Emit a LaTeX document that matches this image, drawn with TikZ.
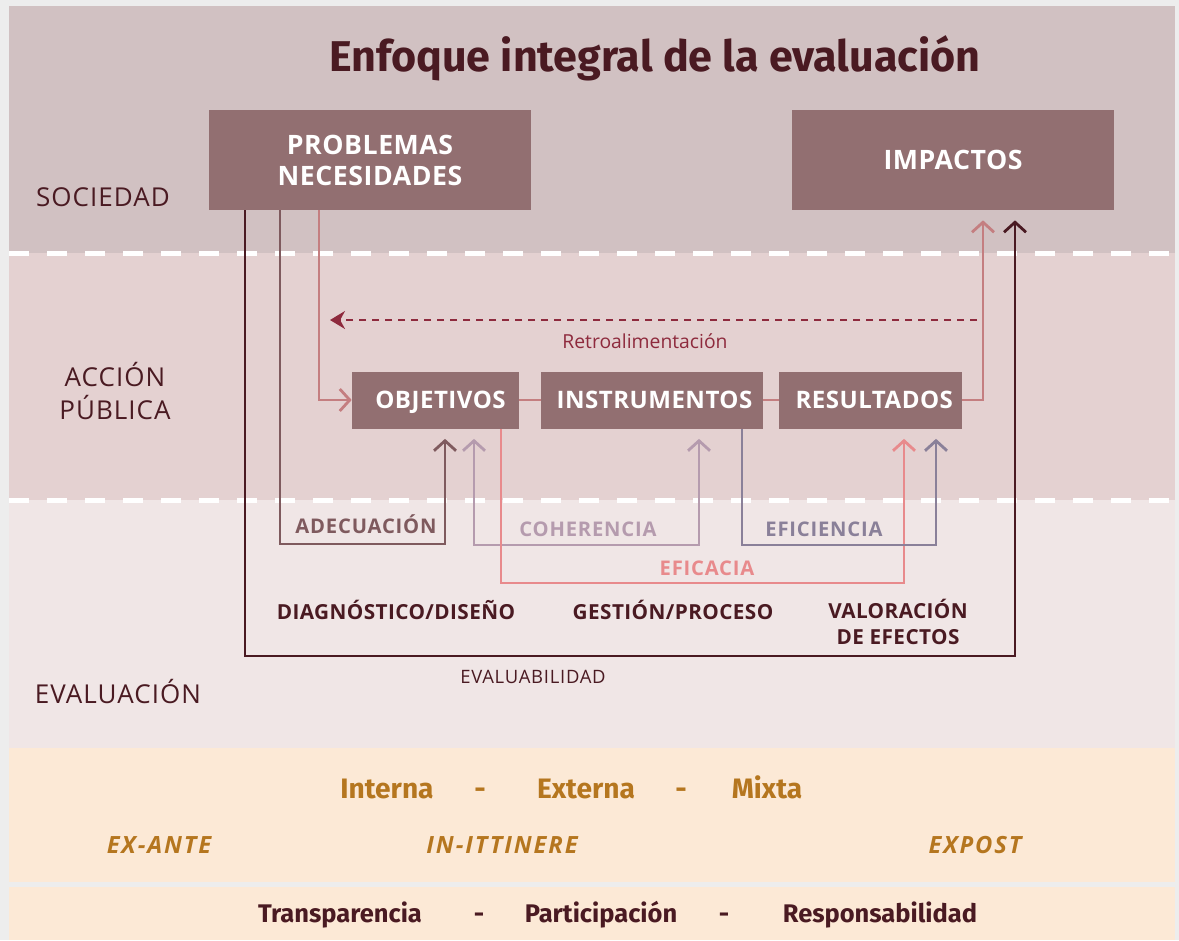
\documentclass[tikz,border=0pt]{standalone}
\usepackage{fontspec}
\setmainfont{Fira Sans}
\newfontfamily\labfont[LetterSpace=4]{Open Sans}
\newfontfamily\boxfont[LetterSpace=2]{Open Sans}
\newfontfamily\momfont[LetterSpace=8]{Open Sans}
\newfontfamily\plainfont{Open Sans}
\usepackage{tikz}
\usetikzlibrary{positioning,calc,arrows.meta}

\definecolor{outerc}{HTML}{EDEDED}
\definecolor{socc}{HTML}{D1C1C2}
\definecolor{accc}{HTML}{E4D1D1}
\definecolor{evac}{HTML}{F0E6E6}
\definecolor{peachc}{HTML}{FCE9D6}
\definecolor{boxc}{HTML}{926F71}
\definecolor{darkc}{HTML}{4A1A22}
\definecolor{adecc}{HTML}{7F5A5E}
\definecolor{pinkc}{HTML}{C47E80}
\definecolor{fbc}{HTML}{8E2A3D}
\definecolor{cohc}{HTML}{B59BAE}
\definecolor{eficc}{HTML}{E88A8C}
\definecolor{efic}{HTML}{8A8099}
\definecolor{goldc}{HTML}{B5761F}

\begin{document}
\begin{tikzpicture}[x=0.02cm,y=-0.02cm,
    box/.style={rectangle,fill=boxc,text=white,font=\boxfont\bfseries\fontsize{15.2}{17.6}\selectfont,align=center,inner sep=0},
    smallbox/.style={box,minimum height=1.14cm,font=\boxfont\bfseries\fontsize{13.7}{16}\selectfont,text height=1.75ex,text depth=0pt},
    link/.style={line width=1.6pt,-{Straight Barb[length=2mm,width=4.4mm]}},
    zone/.style={font=\labfont\fontsize{14.8}{18}\selectfont,text=darkc,align=center},
    crit/.style={font=\labfont\bfseries\fontsize{11.5}{14}\selectfont},
    stage/.style={font=\boxfont\bfseries\fontsize{11.8}{15}\selectfont,text=darkc,align=center},
    kind/.style={font=\bfseries\fontsize{16}{19}\selectfont,text=goldc,text height=1.5ex,text depth=0.3ex},
    moment/.style={font=\momfont\bfseries\itshape\fontsize{13.5}{16}\selectfont,text=goldc,text height=1.5ex,text depth=0.3ex},
    value/.style={font=\bfseries\fontsize{14.5}{17}\selectfont,text=darkc,text height=1.5ex,text depth=0.3ex},
    divider/.style={white,line width=0.1cm,dash pattern=on 0.4cm off 0.36cm}]
    \useasboundingbox (0,0) rectangle (1179,940);
    % bandas
    \fill[outerc] (0,0) rectangle (1179,940);
    \fill[socc] (9,6) rectangle (1175,253);
    \fill[accc] (9,253) rectangle (1175,500);
    \fill[evac] (9,500) rectangle (1175,748);
    \fill[peachc] (9,748) rectangle (1175,882);
    \fill[peachc] (9,887) rectangle (1175,940);
    \draw[divider] (9,253) -- (1175,253);
    \draw[divider] (9,500) -- (1175,500);

    \node[font=\bfseries\fontsize{24.5}{28}\selectfont,text=darkc] (title) at (655,58) {Enfoque integral de la evaluaci\'on};

    \node[zone] (soc) at (103,197) {SOCIEDAD};
    \node[zone,font=\labfont\fontsize{14.8}{18.5}\selectfont] (acc) at (115,391) {ACCI\'ON\\P\'UBLICA};
    \node[zone] (eva) at (118,692) {EVALUACI\'ON};

    \node[box,minimum width=6.44cm,minimum height=2cm] (prob) at (370,160) {PROBLEMAS\\NECESIDADES};
    \node[box,minimum width=6.44cm,minimum height=2cm] (imp) at (953,160) {IMPACTOS};
    \node[smallbox,minimum width=3.34cm] (obj) at (435.5,400) {\hspace*{0.2cm}OBJETIVOS};
    \node[smallbox,minimum width=4.44cm] (inst) at (652,400) {\hspace*{0.1cm}INSTRUMENTOS};
    \node[smallbox,minimum width=3.66cm] (res) at (870.5,400) {\hspace*{0.15cm}RESULTADOS};

    % cadena de la accion publica
    \coordinate (inP) at (319,402);
    \coordinate (outR) at (983,400);
    \draw[link,pinkc] (prob.south -| inP) |- (obj.west);
    \draw[pinkc,line width=1.6pt] (obj.east) -- (inst.west);
    \draw[pinkc,line width=1.6pt] (inst.east) -- (res.west);
    \draw[link,pinkc,shorten >=0.2cm] (res.east) -- (outR) -- (imp.south -| outR);

    % retroalimentacion
    \coordinate (fbR) at (977,320);
    \coordinate (fbL) at (330,320);
    \draw[fbc,line width=1.1pt,dash pattern=on 0.15cm off 0.11cm,-{Stealth[length=3mm,width=3.6mm]}] (fbR) -- (fbL);
    \node[text=fbc,font=\plainfont\fontsize{11}{13}\selectfont] (fbl) at (645,341) {Retroalimentaci\'on};

    % criterios
    \coordinate (evL) at (245,656);
    \coordinate (evR) at (1015,656);
    \draw[link,darkc,shorten >=0.2cm] (prob.south -| evL) -- (evL) -- (evR) -- (imp.south -| evR);
    \node[text=darkc,font=\labfont\fontsize{10.5}{13}\selectfont] (evlab) at (533,677) {EVALUABILIDAD};

    \coordinate (adL) at (280,544);
    \coordinate (adR) at (445,544);
    \draw[link,adecc,shorten >=0.2cm] (prob.south -| adL) -- (adL) -- (adR) -- (obj.south -| adR);
    \node[crit,text=adecc] (adlab) at (366,524) {ADECUACI\'ON};

    \coordinate (coL) at (474,545);
    \coordinate (coR) at (699,545);
    \draw[link,cohc,{Straight Barb[length=2mm,width=4.4mm]}-{Straight Barb[length=2mm,width=4.4mm]},shorten <=0.2cm,shorten >=0.2cm] (obj.south -| coL) -- (coL) -- (coR) -- (inst.south -| coR);
    \node[crit,text=cohc] (colab) at (588,529) {COHERENCIA};

    \coordinate (efL) at (501,583);
    \coordinate (efR) at (904,583);
    \draw[link,eficc,shorten >=0.2cm] (obj.south -| efL) -- (efL) -- (efR) -- (res.south -| efR);
    \node[crit,text=eficc] (eflab) at (707,568) {EFICACIA};

    \coordinate (fiL) at (742,545);
    \coordinate (fiR) at (936,545);
    \draw[link,efic,shorten >=0.2cm] (inst.south -| fiL) -- (fiL) -- (fiR) -- (res.south -| fiR);
    \node[crit,text=efic] (filab) at (824,529) {EFICIENCIA};

    % etapas
    \node[stage] (diag) at (396,610) {DIAGN\'OSTICO/DISE\~NO};
    \node[stage] (gest) at (673,610) {GESTI\'ON/PROCESO};
    \node[stage] (valo) at (898,622) {VALORACI\'ON\\DE EFECTOS};

    % tipos y momentos
    \node[kind] (int) at (387,793) {Interna};
    \node[kind] (d1) at (480,793) {-};
    \node[kind] (ext) at (586,793) {Externa};
    \node[kind] (d2) at (681,793) {-};
    \node[kind] (mix) at (767,793) {Mixta};
    \node[moment] (ante) at (159,848) {EX-ANTE};
    \node[moment] (itt) at (502,848) {IN-ITTINERE};
    \node[moment] (post) at (975,848) {EXPOST};

    \node[value] (tra) at (340,917) {Transparencia};
    \node[value] (d3) at (479,917) {-};
    \node[value] (par) at (601,917) {Participaci\'on};
    \node[value] (d4) at (724,917) {-};
    \node[value] (resp) at (880,917) {Responsabilidad};
\end{tikzpicture}
\end{document}
